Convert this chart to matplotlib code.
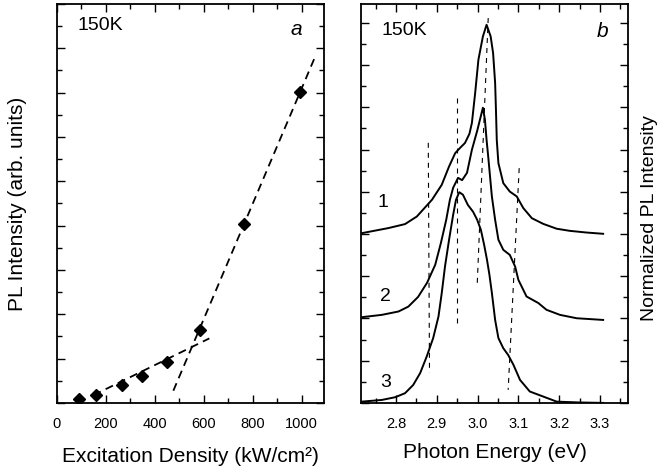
import numpy as np
import matplotlib
matplotlib.use("Agg")
from matplotlib import pyplot as plt
from matplotlib.ticker import MultipleLocator

plt.rcParams['font.family'] = ['Liberation Sans', 'DejaVu Sans']

# panel a: PL intensity vs excitation density
exc_density = [91, 159, 268, 347, 451, 585, 765, 993]
pl_intensity = [0.18, 0.36, 0.80, 1.23, 1.86, 3.29, 8.05, 14.02]
fit_low_x = [150, 623]
fit_low_y = [0.35, 2.91]
fit_high_x = [476, 1054]
fit_high_y = [0.55, 15.6]

# panel b: normalized spectra (offset 8, 4, 0)
e1 = [2.716, 2.781, 2.822, 2.851, 2.888, 2.912, 2.930, 2.945, 2.958, 2.969, 2.980,
      2.986, 2.994, 3.002, 3.013, 3.022, 3.032, 3.038, 3.043, 3.045, 3.047, 3.051,
      3.063, 3.079, 3.096, 3.112, 3.133, 3.161, 3.194, 3.226, 3.267, 3.308]
s1 = [8.04, 8.28, 8.47, 8.83, 9.62, 10.33, 11.2, 11.83, 12.1, 12.31, 12.75,
      13.26, 14.68, 16.26, 17.36, 17.91, 17.36, 16.57, 15.15, 13.89, 12.46, 11.36,
      10.41, 10.01, 9.78, 9.23, 8.75, 8.48, 8.25, 8.15, 8.07, 8.01]
e2 = [2.716, 2.765, 2.806, 2.830, 2.854, 2.876, 2.896, 2.910, 2.923, 2.932, 2.940,
      2.952, 2.962, 2.974, 2.986, 2.999, 3.013, 3.018, 3.022, 3.026, 3.035, 3.043,
      3.051, 3.063, 3.079, 3.092, 3.100, 3.120, 3.149, 3.169, 3.202, 3.243, 3.308]
s2 = [4.06, 4.17, 4.33, 4.56, 5.02, 5.69, 6.54, 7.58, 8.67, 9.62, 10.19,
      10.66, 10.55, 10.90, 11.99, 12.89, 13.98, 13.41, 12.46, 11.67, 9.78, 8.67,
      7.73, 7.25, 7.01, 6.46, 5.83, 5.04, 4.73, 4.41, 4.17, 4.01, 3.93]
e3 = [2.716, 2.765, 2.798, 2.822, 2.842, 2.859, 2.875, 2.891, 2.904, 2.912, 2.920,
      2.930, 2.940, 2.947, 2.955, 2.964, 2.976, 2.989, 2.999, 3.008, 3.016, 3.023,
      3.029, 3.035, 3.043, 3.051, 3.063, 3.075, 3.088, 3.104, 3.128, 3.161, 3.194,
      3.251, 3.308]
s3 = [0.06, 0.14, 0.27, 0.46, 0.85, 1.41, 2.19, 3.07, 4.09, 5.20, 6.46,
      7.73, 8.91, 9.62, 9.98, 9.86, 9.38, 9.05, 8.67, 8.20, 7.49, 6.78,
      6.07, 5.21, 3.93, 3.07, 2.59, 2.27, 1.80, 1.09, 0.54, 0.30, 0.06,
      0.02, 0.0]
guide_x = [(2.879, 2.882), (2.949, 2.949), (3.026, 2.999), (3.102, 3.075)]
guide_y = [(12.32, 1.42), (14.45, 3.70), (18.23, 5.59), (11.12, 0.62)]
curve_labels = ["1", "2", "3"]
curve_label_pos = [(2.768, 9.48), (2.775, 5.04), (2.775, 0.96)]

fig = plt.figure(figsize=(6.57, 4.74), dpi=100)
axa = fig.add_axes([0.0863, 0.150, 0.4069, 0.8418])
axb = fig.add_axes([0.5495, 0.150, 0.4064, 0.8418])

for ax in (axa, axb):
    for sp in ax.spines.values():
        sp.set_linewidth(1.3)
    ax.tick_params(which='both', direction='in', top=True, right=True, width=1.0)
    ax.tick_params(which='major', length=6, labelsize=10.5, pad=10)
    ax.tick_params(which='minor', length=3.5)
    ax.tick_params(axis='y', labelleft=False)

# panel a
axa.plot(fit_low_x, fit_low_y, color='k', lw=1.3, dashes=(4.5, 3))
axa.plot(fit_high_x, fit_high_y, color='k', lw=1.3, dashes=(4.5, 3))
axa.plot(exc_density, pl_intensity, 'D', color='k', markersize=6.5)
axa.set_xlim(0, 1091)
axa.set_ylim(0, 18)
axa.xaxis.set_major_locator(MultipleLocator(200))
axa.xaxis.set_minor_locator(MultipleLocator(100))
axa.yaxis.set_major_locator(MultipleLocator(2))
axa.yaxis.set_minor_locator(MultipleLocator(1))
axa.set_xlabel("Excitation Density (kW/cm²)", fontsize=15, labelpad=12)
axa.set_ylabel("PL Intensity (arb. units)", fontsize=15)
axa.yaxis.set_label_coords(-0.11, 0.5)
axa.text(0.077, 0.945, "150K", transform=axa.transAxes, fontsize=14, va='center', ha='left')
axa.text(0.895, 0.935, "a", transform=axa.transAxes, fontsize=15, style='italic',
         va='center', ha='center')

# panel b
for gx, gy in zip(guide_x, guide_y):
    axb.plot(gx, gy, color='k', lw=0.8, dashes=(4.5, 4.5))
for e, s in [(e1, s1), (e2, s2), (e3, s3)]:
    axb.plot(e, s, color='k', lw=1.4)
for lab, (lx, ly) in zip(curve_labels, curve_label_pos):
    axb.text(lx, ly, lab, fontsize=14, ha='center', va='center')
axb.set_xlim(2.714, 3.369)
axb.set_ylim(0, 18.9)
axb.xaxis.set_major_locator(MultipleLocator(0.1))
axb.xaxis.set_minor_locator(MultipleLocator(0.05))
axb.yaxis.set_major_locator(MultipleLocator(2))
axb.yaxis.set_minor_locator(MultipleLocator(1))
axb.xaxis.set_major_formatter(matplotlib.ticker.FormatStrFormatter('%.1f'))
axb.set_xlabel("Photon Energy (eV)", fontsize=15, labelpad=9)
axb.text(0.075, 0.934, "150K", transform=axb.transAxes, fontsize=14, va='center', ha='left')
axb.text(0.906, 0.93, "b", transform=axb.transAxes, fontsize=15, style='italic',
         va='center', ha='center')
fig.text(0.988, 0.54, "Normalized PL Intensity", rotation=90, fontsize=14,
         ha='center', va='center')

fig.savefig("out.png", dpi=100)
